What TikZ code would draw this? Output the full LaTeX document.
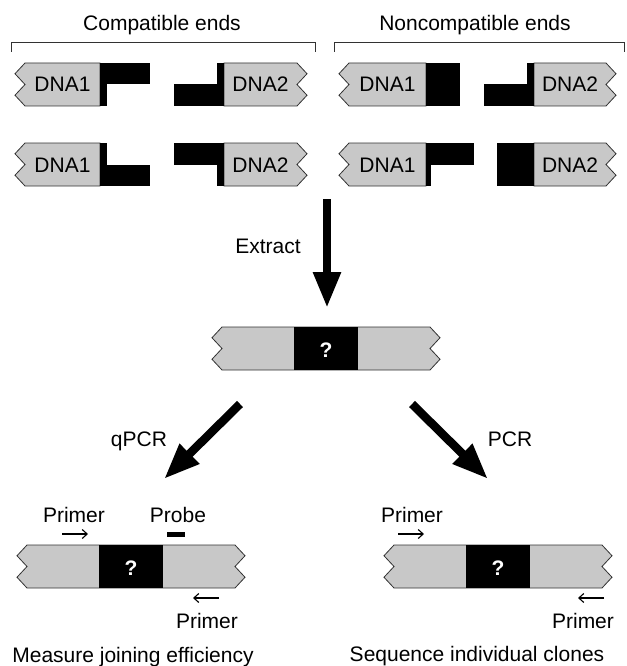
\documentclass[tikz,border=0pt]{standalone}
\usepackage{fontspec}
\setmainfont{Liberation Sans}
\usetikzlibrary{arrows.meta}

\definecolor{dnagray}{RGB}{200,200,200}
\definecolor{edgegray}{RGB}{50,50,50}

% gray piece, zigzag on the left: corner x, right x, top y
\newcommand{\fragL}[3]{\filldraw[frag] (#1,#3)--(#2,#3)--(#2,#3+43)--(#1,#3+43)--++(-10,-10.75)--++(10,-10.75)--++(-10,-10.75)--cycle;}
% gray piece, zigzag on the right: left x, corner x, top y
\newcommand{\fragR}[3]{\filldraw[frag] (#1,#3)--(#2,#3)--++(10,10.75)--++(-10,10.75)--++(10,10.75)--++(-10,10.75)--(#1,#3+43)--cycle;}
% joined product: left corner x, top y, name
\newcommand{\joined}[3]{%
\filldraw[frag] (#1,#2)--(#1+208,#2)--++(10,10.75)--++(-10,10.75)--++(10,10.75)--++(-10,10.75)--(#1,#2+43)--++(-10,-10.75)--++(10,-10.75)--++(-10,-10.75)--cycle;
\fill (#1+72,#2) rectangle (#1+136,#2+43);
\node[lbl,text=white,font=\bfseries\fontsize{21}{25}\selectfont] (#3) at (#1+104,#2+30) {?};}

\begin{document}
\begin{tikzpicture}[x=1pt,y=-1pt,
  frag/.style={fill=dnagray,draw=edgegray,line width=.8pt},
  lbl/.style={anchor=base,inner sep=0pt,font=\fontsize{21}{25}\selectfont},
  bracket/.style={draw=edgegray,line width=1pt},
  bigarrow/.style={line width=8.5pt,-{Triangle[width=26pt,length=36pt]}},
  primer/.style={line width=1.1pt,-{Straight Barb[length=5pt,width=9pt]}}]
\path[use as bounding box] (0,0) rectangle (626,666);

% headings
\node[lbl] (tcomp) at (162,31) {Compatible ends};
\node[lbl] (tnon) at (475,31) {Noncompatible ends};
\draw[bracket] (11,52)--(11,43)--(315,43)--(315,52);
\draw[bracket] (334,52)--(334,43)--(624,43)--(624,52);

% compatible ends, first row
\fragL{25}{100}{63}
\fill (100,63) rectangle (150,84);
\fill (100,84) rectangle (107,106);
\node[lbl] (comp1L) at (62.5,92) {DNA1};
\fragR{224}{297}{63}
\fill (174,84) rectangle (224,106);
\fill (217,63) rectangle (224,84);
\node[lbl] (comp1R) at (260.5,92) {DNA2};

% compatible ends, second row
\fragL{25}{100}{143}
\fill (100,143) rectangle (107,165);
\fill (100,165) rectangle (150,186);
\node[lbl] (comp2L) at (62.5,172) {DNA1};
\fragR{224}{297}{143}
\fill (174,143) rectangle (224,165);
\fill (217,165) rectangle (224,186);
\node[lbl] (comp2R) at (260.5,172) {DNA2};

% noncompatible ends, first row
\fragL{349}{426}{63}
\fill (426,63) rectangle (460,106);
\node[lbl] (non1L) at (387.5,92) {DNA1};
\fragR{534}{606}{63}
\fill (484,84) rectangle (534,106);
\fill (527,63) rectangle (534,84);
\node[lbl] (non1R) at (570,92) {DNA2};

% noncompatible ends, second row
\fragL{349}{426}{143}
\fill (426,143) rectangle (474,165);
\fill (426,165) rectangle (431,186);
\node[lbl] (non2L) at (387.5,172) {DNA1};
\fragR{534}{606}{143}
\fill (497,143) rectangle (534,186);
\node[lbl] (non2R) at (570,172) {DNA2};

% extraction
\coordinate (ex1) at (327,199);
\coordinate (ex2) at (327,308);
\draw[bigarrow] (ex1)--(ex2);
\node[lbl] (textract) at (268,253.5) {Extract};
\joined{222}{327}{qmid}

% split into qPCR and PCR
\coordinate (q1) at (240,404);
\coordinate (q2) at (164,479);
\coordinate (s1) at (412,404);
\coordinate (s2) at (488,479);
\draw[bigarrow] (q1)--(q2);
\draw[bigarrow] (s1)--(s2);
\node[lbl] (tqpcr) at (139,446) {qPCR};
\node[lbl] (tpcr) at (510,446) {PCR};

% qPCR product
\joined{27}{545}{qleft}
\node[lbl] (tprimA) at (74,522) {Primer};
\node[lbl] (tprobe) at (178,522) {Probe};
\fill (167,532) rectangle (185,536.5);
\coordinate (pa1) at (62,534);
\coordinate (pa2) at (88,534);
\draw[primer] (pa1)--(pa2);
\coordinate (pb1) at (219,598);
\coordinate (pb2) at (193,598);
\draw[primer] (pb1)--(pb2);
\node[lbl] (tprimB) at (207,628) {Primer};
\node[lbl] (tmeasure) at (133,662) {Measure joining efficiency};

% PCR product
\joined{394}{545}{qright}
\node[lbl] (tprimC) at (412,522) {Primer};
\coordinate (pc1) at (398,534);
\coordinate (pc2) at (424,534);
\draw[primer] (pc1)--(pc2);
\coordinate (pd1) at (604,598);
\coordinate (pd2) at (578,598);
\draw[primer] (pd1)--(pd2);
\node[lbl] (tprimD) at (583,628) {Primer};
\node[lbl] (tseq) at (477,661.5) {Sequence individual clones};
\end{tikzpicture}
\end{document}
